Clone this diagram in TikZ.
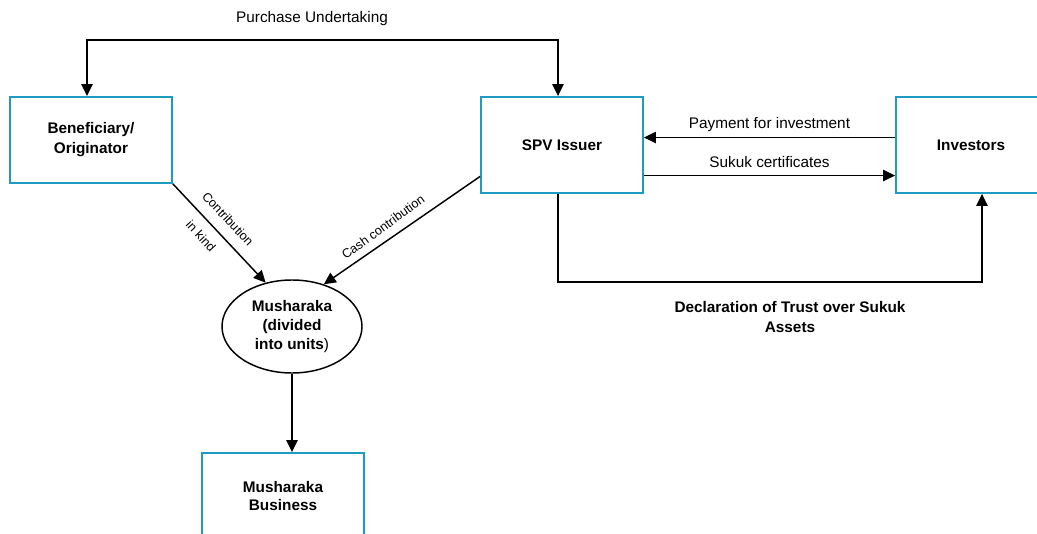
\documentclass[tikz,border=0pt]{standalone}
\usepackage{fontspec}
\setmainfont{Liberation Sans}
\usetikzlibrary{arrows.meta,shapes.geometric}
\definecolor{boxc}{RGB}{30,155,195}
\begin{document}
\begin{tikzpicture}[x=0.75pt,y=-0.75pt,
  box/.style={draw=boxc,line width=1.4pt,align=center,inner sep=0pt,
    font=\bfseries\fontsize{11.5}{15}\selectfont},
  ell/.style={draw=black,line width=1.1pt,ellipse,align=center,inner sep=0pt,
    minimum width=105pt,minimum height=69.75pt,
    font=\bfseries\fontsize{11.5}{13.9}\selectfont},
  conn/.style={line width=1.1pt},
  tip/.tip={Triangle[length=9pt,width=8.5pt]},
  arr/.style={conn,-tip},
  lab/.style={font=\fontsize{11.5}{14}\selectfont,inner sep=0pt},
  rlab/.style={font=\fontsize{9.5}{11}\selectfont,inner sep=0pt},
  blab/.style={font=\bfseries\fontsize{11.5}{15}\selectfont,align=center,inner sep=0pt}]
\useasboundingbox (0,0) rectangle (1037,534);
\clip (0,0) rectangle (1037,534);

% boxes
\node[box,minimum width=121.5pt,minimum height=64.5pt] (ben) at (91,140) {Beneficiary/\\Originator};
\node[box,minimum width=121.5pt,minimum height=72pt] (spv) at (562,145) {SPV Issuer};
\node[box,minimum width=112.5pt,minimum height=72pt] (inv) at (971,145) {Investors};
\node[ell] (mush) at (292,326.5) {Musharaka\\(divided\\into units{\mdseries)}};
\node[box,minimum width=121.5pt,minimum height=64.5pt,font=\bfseries\fontsize{11.5}{13.5}\selectfont] (bus) at (283,496) {Musharaka\\Business};

% labels
\node[lab] (pu) at (312,19) {Purchase Undertaking};
\node[blab] (decl) at (790,317) {Declaration of Trust over Sukuk\\Assets};
\node[rlab,rotate=-47] (contr) at (228,219) {Contribution};
\node[rlab,rotate=-47] (kind) at (201,236) {in kind};
\node[rlab,rotate=36] (cash) at (383,227) {Cash contribution};

% connectors
\draw[conn,tip-tip]
  ([xshift=-3pt]ben.north) -- ++(0,-56) -| ([xshift=-3pt]spv.north);
\draw[arr] ([yshift=5.6pt]inv.west) -- node[lab,above=4pt]{Payment for investment} ([yshift=5.6pt]spv.west -| spv.east);
\draw[arr] ([yshift=-22.9pt]spv.east) -- node[lab,above=5.5pt]{Sukuk certificates} ([yshift=-22.9pt]spv.east -| inv.west);
\draw[arr] ([xshift=-3pt]spv.south) -- ++(0,88) -| ([xshift=8.25pt]inv.south);
\draw[arr] (ben.south east) -- (mush.121);
\draw[arr] (spv.201) -- (mush.53);
\draw[arr] (mush.south) -- (mush.south |- bus.north);
\end{tikzpicture}
\end{document}
